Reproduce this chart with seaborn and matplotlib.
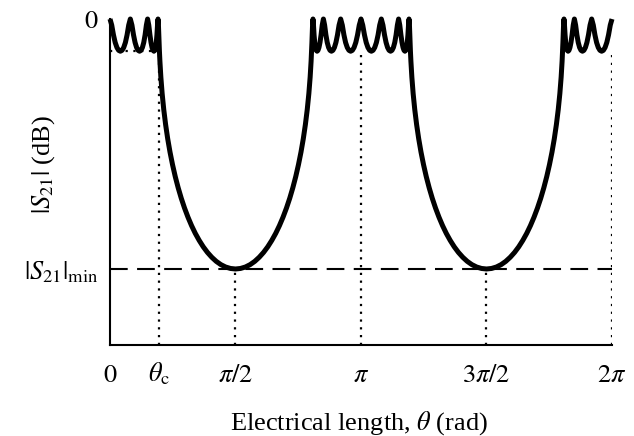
import numpy as np
import pandas as pd
import matplotlib
matplotlib.use('Agg')
import matplotlib.pyplot as plt
import seaborn as sns

# ---- data (theta in units of pi, |S21| in dB) ----
# one half-period of the response, 0 .. pi/2
theta_half = [0.0000, 0.0069, 0.0138, 0.0207, 0.0276, 0.0344, 0.0412, 0.0480, 0.0547,
              0.0614, 0.0680, 0.0745, 0.0810, 0.0874, 0.0937, 0.0999, 0.1059, 0.1119,
              0.1178, 0.1235, 0.1291, 0.1345, 0.1398, 0.1449, 0.1498, 0.1545, 0.1591,
              0.1634, 0.1675, 0.1714, 0.1750, 0.1784, 0.1815, 0.1844, 0.1870, 0.1893,
              0.1913, 0.1930, 0.1944, 0.1955, 0.1963, 0.1968, 0.1969, 0.1988, 0.2026,
              0.2078, 0.2142, 0.2216, 0.2299, 0.2391, 0.2492, 0.2600, 0.2716, 0.2839,
              0.2969, 0.3106, 0.3249, 0.3398, 0.3554, 0.3715, 0.3882, 0.4055, 0.4233,
              0.4417, 0.4606, 0.4801, 0.5000]
s21_half = [0.00, -1.77, -4.59, -6.77, -8.21, -9.03, -9.29, -9.03, -8.21,
            -6.77, -4.59, -1.77, 0.00, -1.77, -4.59, -6.77, -8.21, -9.03,
            -9.29, -9.03, -8.21, -6.77, -4.59, -1.77, 0.00, -1.77, -4.59,
            -6.77, -8.21, -9.03, -9.29, -9.03, -8.21, -6.77, -4.59, -1.77,
            0.00, -1.77, -4.59, -6.77, -8.21, -9.03, -9.29, -12.14, -16.75,
            -21.53, -26.12, -30.45, -34.53, -38.38, -42.02, -45.44, -48.66, -51.68,
            -54.50, -57.13, -59.57, -61.81, -63.84, -65.68, -67.30, -68.70, -69.88,
            -70.82, -71.51, -71.93, -72.08]

theta_c = 0.1969          # cut-off electrical length (x pi)
s21_ripple = -9.29        # passband ripple level (dB)
s21_min = -72.08          # stopband minimum (dB)
y_bottom = -94.0

xtick_values = [0, theta_c, 0.5, 1.0, 1.5, 2.0]
xtick_labels = [r'$0$', r'$\theta_{\rm c}$', r'$\pi/2$', r'$\pi$', r'$3\pi/2$', r'$2\pi$']
ytick_values = [s21_min, 0]
ytick_labels = [r'$|S_{21}|_{\rm min}$', r'$0$']
stop_centres = [0.5, 1.5]
pass_centres = [1.0, 2.0]

# build the periodic, symmetric curve from the half period
th = np.asarray(theta_half)
s = np.asarray(s21_half)
theta_full = np.concatenate([th, 1 - th[::-1][1:], 1 + th[1:], 2 - th[::-1][1:]])
s21_full = np.concatenate([s, s[::-1][1:], s[1:], s[::-1][1:]])
df = pd.DataFrame({'theta': theta_full, 's21': s21_full})

# ---- style ----
sns.set_theme(style='white')
plt.rcParams['font.family'] = ['Liberation Serif', 'DejaVu Serif']
plt.rcParams['mathtext.fontset'] = 'stix'

fig = plt.figure(figsize=(6.34, 4.36), dpi=100)
ax = fig.add_axes([0.1735, 0.2087, 0.7918, 0.7477])

dot = dict(color='black', lw=1.6, linestyle=(0, (1, 2.5)), dash_capstyle='butt', zorder=1)
# dotted guide lines
ax.plot([theta_c, theta_c], [y_bottom, s21_ripple], **dot)
ax.plot([0, theta_c], [s21_ripple, s21_ripple], **dot)
for xc in pass_centres:
    ax.plot([xc, xc], [y_bottom, s21_ripple], **dot)
for xc in stop_centres:
    ax.plot([xc, xc], [y_bottom, s21_min], **dot)
# dashed minimum level
ax.plot([0, 2], [s21_min, s21_min], color='black', lw=1.5,
        linestyle=(0, (8.5, 4.5)), dash_capstyle='butt', zorder=1)

sns.lineplot(data=df, x='theta', y='s21', sort=False, estimator=None,
             color='black', lw=3.6, ax=ax, zorder=3)
line = ax.lines[-1]
line.set_clip_on(False)
line.set_solid_joinstyle('round')
line.set_solid_capstyle('butt')

ax.set_xlim(0, 2)
ax.set_ylim(y_bottom, 0)
ax.set_xticks(xtick_values)
ax.set_xticklabels(xtick_labels)
ax.set_yticks(ytick_values)
ax.set_yticklabels(ytick_labels)
ax.tick_params(axis='both', length=0, labelsize=19, colors='black')
ax.tick_params(axis='x', pad=26.5)
ax.tick_params(axis='y', pad=8.5)
for lab in ax.get_xticklabels():
    lab.set_va('baseline')

for side in ['top', 'right']:
    ax.spines[side].set_visible(False)
for side in ['left', 'bottom']:
    ax.spines[side].set_color('black')
    ax.spines[side].set_linewidth(1.5)

ax.set_xlabel(r'Electrical length, $\theta$ (rad)', fontsize=19, color='black')
ax.set_ylabel(r'$|S_{21}|$ (dB)', fontsize=19, color='black')
ax.xaxis.set_label_coords(0.496, -0.2607)
ax.xaxis.label.set_va('baseline')
ax.yaxis.set_label_coords(-0.1195, 0.555)
ax.yaxis.label.set_va('baseline')

fig.savefig('out.png', dpi=100)
